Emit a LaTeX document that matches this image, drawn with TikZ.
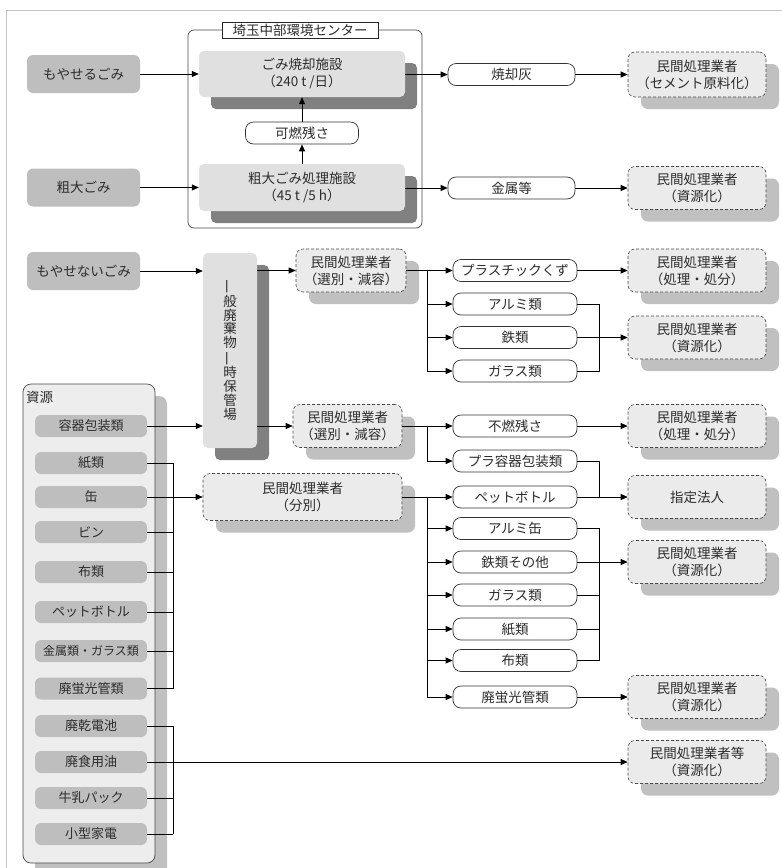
\documentclass[tikz,border=0pt]{standalone}
\usepackage{fontspec}
\usepackage{graphicx}
\setmainfont{Noto Sans CJK JP}
\usetikzlibrary{arrows.meta,shadows}

\definecolor{srcg}{HTML}{BEBEBE}
\definecolor{facf}{HTML}{E0E0E0}
\definecolor{facs}{HTML}{808080}
\definecolor{dshf}{HTML}{EBEBEB}
\definecolor{dshs}{HTML}{C0C0C0}
\definecolor{txt}{HTML}{2C2C2C}
\definecolor{edge}{HTML}{484848}
\definecolor{framec}{HTML}{C4C4C4}
\definecolor{resf}{HTML}{EDEDED}

\tikzset{
 base/.style={inner sep=0pt, text=txt, align=center, font=\fontsize{13.5}{17}\selectfont},
 srcbox/.style={base, fill=srcg, rounded corners=6pt, minimum width=113pt, minimum height=38pt},
 itembox/.style={base, fill=srcg, rounded corners=6pt, minimum width=112pt, minimum height=22pt, font=\fontsize{13}{15}\selectfont},
 facbox/.style={base, fill=facf, rounded corners=5pt, general shadow={fill=facs, shadow xshift=12pt, shadow yshift=-12pt}},
 dashbox/.style={base, fill=dshf, draw=edge, densely dashed, line width=0.6pt, rounded corners=7pt, general shadow={fill=dshs, shadow xshift=13pt, shadow yshift=-12pt}, minimum width=138pt, minimum height=43pt},
 whitebox/.style={base, fill=white, draw=black!80, line width=0.7pt, rounded corners=8pt, minimum width=124pt, minimum height=22pt},
 arr/.style={-{Triangle[length=7pt,width=6pt]}, line width=0.8pt, black},
 ln/.style={line width=0.8pt, black},
}

\begin{document}
\begin{tikzpicture}[x=1pt,y=-1pt]
\useasboundingbox (0,0) rectangle (782,868);
\fill[white] (0,0) rectangle (782,868);
\draw[framec, line width=0.8pt] (6,868) -- (6,10) -- (782,10);

% ---------- top section ----------
\node[draw=edge, line width=0.7pt, rounded corners=6pt, minimum width=234pt, minimum height=198pt, inner sep=0pt] (center) at (305,129) {};
\node[base, draw=black!85, fill=white, line width=0.7pt, minimum width=156pt, minimum height=16pt] (title) at (300,30) {埼玉中部環境センター};

\node[srcbox] (moyaseru) at (83.5,74) {もやせるごみ};
\node[srcbox] (sodai) at (83.5,187.5) {粗大ごみ};

\node[facbox, minimum width=206pt, minimum height=46pt] (shokyaku) at (302,74) {ごみ焼却施設\\（240 t /日）};
\node[facbox, minimum width=206pt, minimum height=47pt] (sodaishisetsu) at (302,187.5) {粗大ごみ処理施設\\（45 t /5 h）};
\node[whitebox, minimum width=113pt] (kanen) at (302,133) {可燃残さ};

\draw[arr] (moyaseru.east) -- (moyaseru.east -| shokyaku.west);
\draw[arr] (sodai.east) -- (sodai.east -| sodaishisetsu.west);
\draw[arr] (sodaishisetsu.north) -- (kanen.south);
\draw[arr] (kanen.north) -- (shokyaku.south);

\node[whitebox, minimum width=127pt] (ash) at (511.5,74.5) {焼却灰};
\node[whitebox, minimum width=127pt] (metal) at (511.5,188) {金属等};
\draw[arr] (shokyaku.east |- ash.west) -- (ash.west);
\draw[arr] (sodaishisetsu.east |- metal.west) -- (metal.west);

\node[dashbox, minimum height=45pt] (cement) at (697,74.5) {民間処理業者\\（セメント原料化）};
\node[dashbox] (shigen1) at (697,188) {民間処理業者\\（資源化）};
\draw[arr] (ash.east) -- (cement.west);
\draw[arr] (metal.east) -- (shigen1.west);

% ---------- middle section ----------
\node[srcbox] (moyasenai) at (83.5,271) {もやせないごみ};
\node[facbox, minimum width=54pt, minimum height=195pt, font=\fontsize{13.5}{13.9}\selectfont] (hokan) at (230,350.5)
 {\rotatebox[origin=c]{90}{一}\\般\\廃\\棄\\物\\\rotatebox[origin=c]{90}{一}\\時\\保\\管\\場};
\draw[arr] (moyasenai.east) -- (moyasenai.east -| hokan.west);

\node[dashbox, minimum width=110pt] (senbetsu1) at (351,270.5) {民間処理業者\\（選別・減容）};
\draw[arr] (hokan.east |- senbetsu1.west) -- (senbetsu1.west);

\node[whitebox] (plastic) at (515,270.5) {プラスチックくず};
\node[whitebox] (alumi) at (515,304) {アルミ類};
\node[whitebox] (tetsu) at (515,337.5) {鉄類};
\node[whitebox] (glassa) at (515,371) {ガラス類};
\coordinate (bA) at (427,270.5);
\draw[arr] (senbetsu1.east) -- (plastic.west);
\draw[ln] (bA) -- (bA |- glassa.west);
\draw[arr] (bA |- alumi.west) -- (alumi.west);
\draw[arr] (bA |- tetsu.west) -- (tetsu.west);
\draw[arr] (bA |- glassa.west) -- (glassa.west);

\node[dashbox] (shori1) at (697,270.5) {民間処理業者\\（処理・処分）};
\node[dashbox] (shigen2) at (697,337.5) {民間処理業者\\（資源化）};
\coordinate (mA) at (599,304);
\draw[arr] (plastic.east) -- (shori1.west);
\draw[ln] (alumi.east) -- (mA) -- (mA |- glassa.east) -- (glassa.east);
\draw[arr] (tetsu.east) -- (shigen2.west);

% ---------- resources ----------
\begin{scope}
\clip (0,0) rectangle (782,868);
\fill[dshs, rounded corners=8pt] (35,396) rectangle (167,890);
\end{scope}
\node[draw=edge, fill=resf, line width=0.7pt, rounded corners=8pt, minimum width=132pt, minimum height=479pt, inner sep=0pt] (resbox) at (89,623.5) {};
\node[base, anchor=west] (reslbl) at (26,397) {資源};

\node[itembox] (yoki) at (91,426) {容器包装類};
\node[itembox] (kami) at (91,463) {紙類};
\node[itembox] (kan) at (91,497) {缶};
\node[itembox] (bin) at (91,532) {ビン};
\node[itembox] (nuno) at (91,572) {布類};
\node[itembox] (pet) at (91,612) {ペットボトル};
\node[itembox, font=\fontsize{12}{14}\selectfont] (kinzoku) at (91,651) {金属類・ガラス類};
\node[itembox] (keiko) at (91,688.5) {廃蛍光管類};
\node[itembox] (denchi) at (91,726) {廃乾電池};
\node[itembox] (abura) at (91,762) {廃食用油};
\node[itembox] (gyunyu) at (91,798) {牛乳パック};
\node[itembox] (kaden) at (91,834) {小型家電};

\draw[arr] (yoki.east) -- (yoki.east -| hokan.west);

\node[dashbox, minimum width=109pt] (senbetsu2) at (347.5,426) {民間処理業者\\（選別・減容）};
\draw[arr] (hokan.east |- senbetsu2.west) -- (senbetsu2.west);

\node[dashbox, minimum width=199pt, minimum height=47pt] (bunbetsu) at (302.5,497) {民間処理業者\\（分別）};

\coordinate (lA) at (173,463);
\draw[ln] (lA) -- (lA |- keiko.east);
\foreach \n in {kami,kan,bin,nuno,pet,kinzoku,keiko}{\draw[ln] (\n.east) -- (\n.east -| lA);}
\draw[arr] (lA |- kan.east) -- (bunbetsu.west);

\coordinate (lB) at (173,726);
\draw[ln] (lB) -- (lB |- kaden.east);
\foreach \n in {denchi,abura,gyunyu,kaden}{\draw[ln] (\n.east) -- (\n.east -| lB);}

% ---------- right lower ----------
\node[whitebox] (funen) at (515,426) {不燃残さ};
\node[whitebox] (pura) at (515,461) {プラ容器包装類};
\node[whitebox] (petb) at (515,497) {ペットボトル};
\node[whitebox] (alcan) at (515,528.5) {アルミ缶};
\node[whitebox] (tetsuso) at (515,562) {鉄類その他};
\node[whitebox] (glassb) at (515,595) {ガラス類};
\node[whitebox] (kamib) at (515,629) {紙類};
\node[whitebox] (nunob) at (515,660.5) {布類};
\node[whitebox] (keikob) at (515,697) {廃蛍光管類};

\coordinate (bB) at (427,426);
\draw[arr] (senbetsu2.east) -- (funen.west);
\draw[ln] (bB) -- (bB |- pura.west);
\draw[arr] (bB |- pura.west) -- (pura.west);

\coordinate (bC) at (427,497);
\draw[arr] (bunbetsu.east) -- (petb.west);
\draw[ln] (bC) -- (bC |- keikob.west);
\foreach \n in {alcan,tetsuso,glassb,kamib,nunob,keikob}{\draw[arr] (bC |- \n.west) -- (\n.west);}

\node[dashbox] (shori2) at (697,426) {民間処理業者\\（処理・処分）};
\node[dashbox] (shitei) at (697,497) {指定法人};
\node[dashbox] (shigen3) at (697,562) {民間処理業者\\（資源化）};
\node[dashbox] (shigen4) at (697,697) {民間処理業者\\（資源化）};
\node[dashbox] (shigen5) at (697,762) {民間処理業者等\\（資源化）};

\draw[arr] (funen.east) -- (shori2.west);
\coordinate (mB) at (599,461);
\draw[ln] (pura.east) -- (mB) -- (mB |- shitei.west);
\draw[arr] (petb.east) -- (shitei.west);
\coordinate (mC) at (599,528.5);
\draw[ln] (alcan.east) -- (mC) -- (mC |- nunob.east) -- (nunob.east);
\draw[ln] (glassb.east) -- (glassb.east -| mC);
\draw[ln] (kamib.east) -- (kamib.east -| mC);
\draw[arr] (tetsuso.east) -- (shigen3.west);
\draw[arr] (keikob.east) -- (shigen4.west);
\draw[arr] (lB |- abura.east) -- (shigen5.west);
\end{tikzpicture}
\end{document}
